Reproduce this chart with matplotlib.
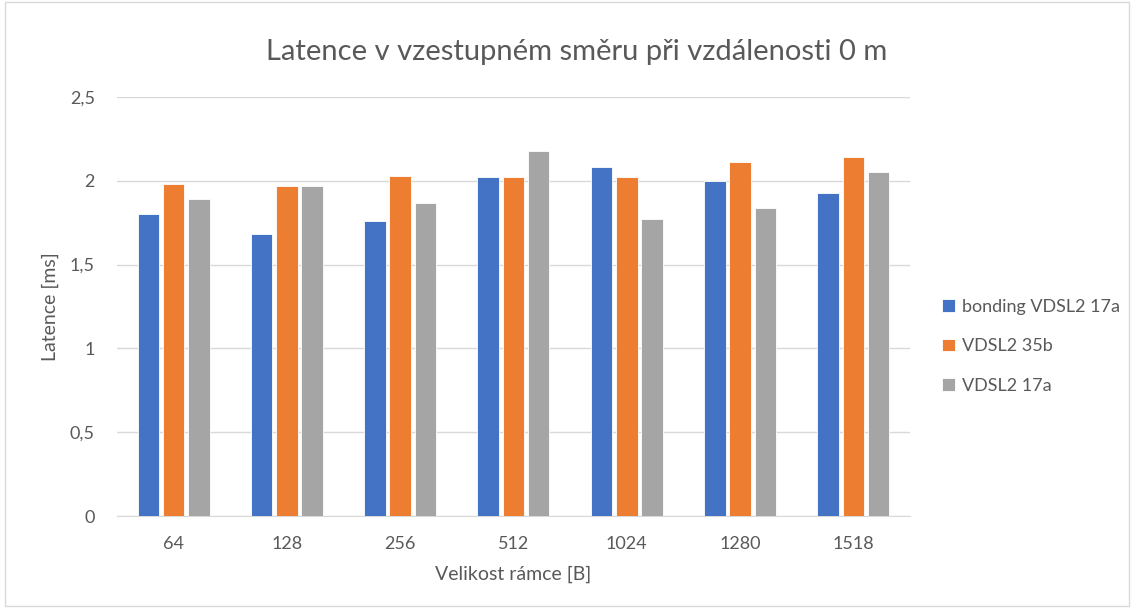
import numpy as np
import matplotlib.pyplot as plt
from matplotlib.patches import Rectangle

plt.rcParams['font.family'] = ['Lato', 'DejaVu Sans']

# data
velikosti = ["64", "128", "256", "512", "1024", "1280", "1518"]
bonding_17a = [1.80, 1.68, 1.76, 2.02, 2.08, 2.00, 1.93]
vdsl2_35b = [1.98, 1.97, 2.03, 2.02, 2.02, 2.11, 2.14]
vdsl2_17a = [1.89, 1.97, 1.87, 2.18, 1.77, 1.84, 2.05]

serie = [
    ("bonding VDSL2 17a", bonding_17a, "#4472c4"),
    ("VDSL2 35b", vdsl2_35b, "#ed7d31"),
    ("VDSL2 17a", vdsl2_17a, "#a5a5a5"),
]

fig = plt.figure(figsize=(11.36, 6.10), dpi=100)
ax = fig.add_axes([0.103, 0.154, 0.698, 0.687])

x = np.arange(len(velikosti))
sirka = 0.19
for i, (nazev, hodnoty, barva) in enumerate(serie):
    ax.bar(x + (i - 1) * 0.223, hodnoty, sirka, color=barva, label=nazev,
           edgecolor="white", linewidth=0.6, zorder=3)

ax.set_xlim(-0.5, len(velikosti) - 0.5)
ax.set_ylim(0, 2.5)
ax.set_yticks([0, 0.5, 1, 1.5, 2, 2.5])
ax.set_yticklabels(["0", "0,5", "1", "1,5", "2", "2,5"])
ax.set_xticks(x)
ax.set_xticklabels(velikosti)
ax.grid(axis="y", color="#d9d9d9", linewidth=1, zorder=0)
ax.tick_params(axis="both", length=0, labelsize=13, colors="#595959")
ax.tick_params(axis="x", pad=14)
ax.tick_params(axis="y", pad=16)
for s in ["top", "right", "left"]:
    ax.spines[s].set_visible(False)
ax.spines["bottom"].set_color("#d9d9d9")

ax.set_xlabel("Velikost rámce [B]", fontsize=14, color="#595959", labelpad=10)
ax.set_ylabel("Latence [ms]", fontsize=14, color="#595959", labelpad=8)
fig.text(0.508, 0.915, "Latence v vzestupném směru při vzdálenosti 0 m",
         ha="center", va="center", fontsize=21, color="#595959")

leg = ax.legend(loc="center left", bbox_to_anchor=(1.02, 0.405), frameon=False,
                fontsize=13, handlelength=0.7, handleheight=0.7,
                handletextpad=0.4, labelspacing=1.3)
for t in leg.get_texts():
    t.set_color("#595959")

fig.patches.append(Rectangle((0.004, 0.006), 0.99, 0.99, transform=fig.transFigure,
                             fill=False, edgecolor="#d9d9d9", linewidth=1))

fig.savefig("out.png", dpi=100)
